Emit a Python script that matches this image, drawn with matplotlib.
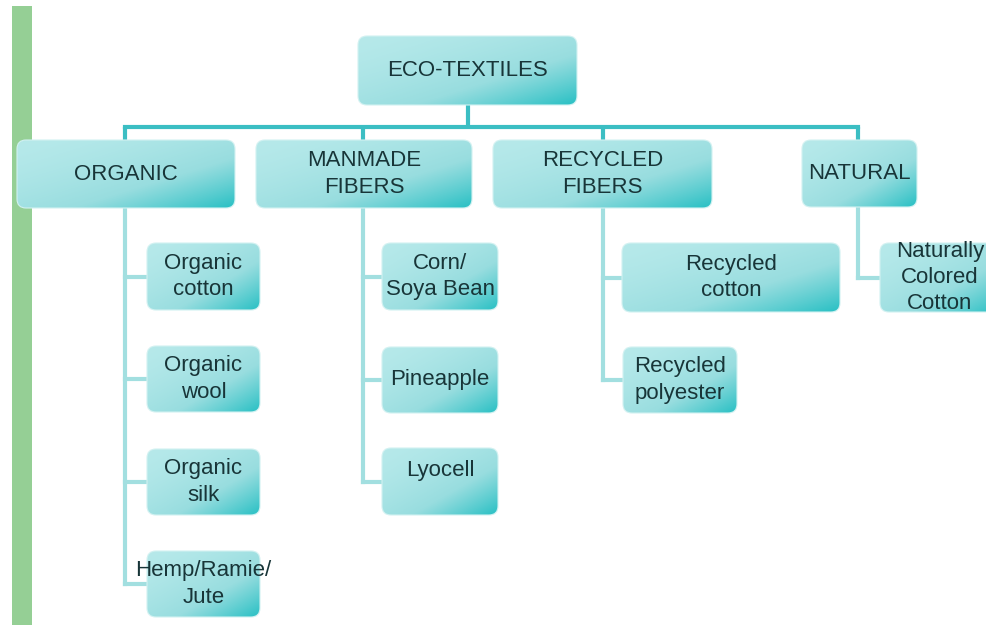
import matplotlib.pyplot as plt
import numpy as np
from matplotlib.patches import FancyBboxPatch, Rectangle
from matplotlib.colors import LinearSegmentedColormap

# tree content
root = "ECO-TEXTILES"
groups = ["ORGANIC", "MANMADE\nFIBERS", "RECYCLED\nFIBERS", "NATURAL"]
organic = ["Organic\ncotton", "Organic\nwool", "Organic\nsilk", "Hemp/Ramie/\nJute"]
manmade = ["Corn/\nSoya Bean", "Pineapple", "Lyocell"]
recycled = ["Recycled\ncotton", "Recycled\npolyester"]
natural = ["Naturally\nColored\nCotton"]
children = [organic, manmade, recycled, natural]

# layout in pixels (x0, y0, x1, y1), y downwards
root_box = (358, 36, 577, 105)
group_boxes = [(17, 140, 235, 208), (256, 140, 472, 208),
               (493, 140, 712, 208), (802, 140, 917, 207)]
trunk_x = [125, 363, 603, 858]
child_boxes = [
    [(147, 243, 260, 310), (147, 346, 260, 412), (147, 449, 260, 515), (147, 551, 260, 617)],
    [(382, 243, 498, 310), (382, 347, 498, 413), (382, 448, 498, 515)],
    [(622, 243, 840, 312), (623, 347, 737, 413)],
    [(880, 243, 1000, 312)],
]
bus_y = 127

TEXT = "#183538"
LINE_DARK = "#3bbec3"
LINE_LIGHT = "#a2dfe0"
box_cmap = LinearSegmentedColormap.from_list(
    "box", ["#b6e9ea", "#98dddf", "#29c0c4"], N=256)

plt.rcParams['font.family'] = ['Liberation Sans', 'DejaVu Sans']

fig = plt.figure(figsize=(9.87, 6.25), dpi=100)
ax = fig.add_axes([0, 0, 1, 1])
ax.set_xlim(0, 987)
ax.set_ylim(625, 0)
ax.axis("off")

# gradient used for every box
gy, gx = np.mgrid[0:1:60j, 0:1:120j]
grad = ((gx + gy) / 2) ** 1.5


def draw_box(box, label, fs=16, dy=0):
    x0, y0, x1, y1 = box
    patch = FancyBboxPatch((x0, y0), x1 - x0, y1 - y0,
                           boxstyle="round,pad=0,rounding_size=9",
                           facecolor="none", edgecolor="#d2f1f1", lw=0.8, zorder=3)
    ax.add_patch(patch)
    im = ax.imshow(grad, cmap=box_cmap, extent=(x0, x1, y1, y0),
                   aspect="auto", interpolation="bilinear", zorder=2)
    im.set_clip_path(patch)
    ax.text((x0 + x1) / 2, (y0 + y1) / 2 + dy, label, ha="center", va="center",
            fontsize=fs, color=TEXT, linespacing=1.32, zorder=4)


# green margin bar
ax.add_patch(Rectangle((12, 6), 20, 625, facecolor="#95cf95", edgecolor="none"))

# root connectors
rcx = (root_box[0] + root_box[2]) / 2
ax.plot([rcx, rcx], [root_box[3], bus_y], color=LINE_DARK, lw=3, solid_capstyle="butt")
ax.plot([trunk_x[0], trunk_x[-1]], [bus_y, bus_y], color=LINE_DARK, lw=3,
        solid_capstyle="projecting")
for i, tx in enumerate(trunk_x):
    ax.plot([tx, tx], [bus_y, group_boxes[i][1]], color=LINE_DARK, lw=3, solid_capstyle="butt")

# child connectors
for i, tx in enumerate(trunk_x):
    ys = [(b[1] + b[3]) / 2 for b in child_boxes[i]]
    ax.plot([tx, tx], [group_boxes[i][3], ys[-1]], color=LINE_LIGHT, lw=3,
            solid_capstyle="projecting", zorder=1)
    for b, y in zip(child_boxes[i], ys):
        ax.plot([tx, b[0]], [y, y], color=LINE_LIGHT, lw=3, zorder=1)

draw_box(root_box, root)
for i, g in enumerate(groups):
    draw_box(group_boxes[i], g)
for i, kids in enumerate(children):
    for b, lab in zip(child_boxes[i], kids):
        dy = -11 if lab == "Lyocell" else 0
        draw_box(b, lab, dy=dy)

fig.savefig("out.png", dpi=100)
